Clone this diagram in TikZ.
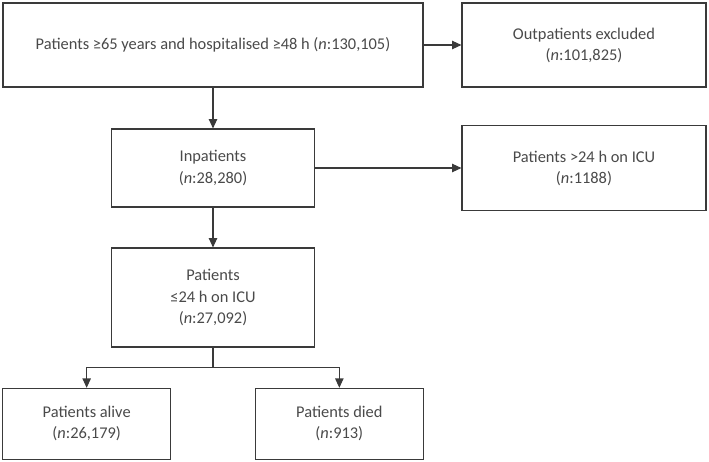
\documentclass[tikz,border=0pt]{standalone}
\usepackage{fontspec}
\setmainfont{Carlito}
\usetikzlibrary{arrows.meta}
\definecolor{linegray}{HTML}{3a3a3a}
\definecolor{textgray}{HTML}{4a4a4a}

\begin{document}
\begin{tikzpicture}[->,>={Triangle[length=2.8mm,width=2.5mm]},line width=0.9pt,color=linegray,
	                    node distance=3.69cm,font=\fontsize{14}{18}\selectfont]
	  \tikzstyle{box}=[rectangle,draw=linegray,fill=white,text=textgray,align=center,inner sep=0pt]

	  \useasboundingbox (0,0) rectangle (21.27,-13.86);

	  \node[box, minimum width=12.6cm, minimum height=2.52cm]	(start) at (6.39,-1.35) 	{Patients ≥65 years and hospitalised ≥48 h (\textit{n}:130,105)};
	  \node[box, minimum width=7.32cm, minimum height=2.52cm]	(outp) [right of=start, node distance=11.13cm] 	{Outpatients excluded\\(\textit{n}:101,825)};
	  \node[box, minimum width=6.09cm, minimum height=2.34cm]	(inp) [below of=start] 	{Inpatients\\(\textit{n}:28,280)};
	  \node[box, minimum width=7.32cm, minimum height=2.55cm]	(icu) [right of=inp, node distance=11.13cm] 	{Patients >24 h on ICU\\(\textit{n}:1188)};
	  \node[box, minimum width=6.09cm, minimum height=2.97cm]	(short) [below of=inp, node distance=3.885cm] 	{Patients\\≤24 h on ICU\\(\textit{n}:27,092)};
	  \node[box, minimum width=5.04cm, minimum height=2.13cm]	(alive) [below left of=short, node distance=5.36cm] 	{Patients alive\\(\textit{n}:26,179)};
	  \node[box, minimum width=5.04cm, minimum height=2.13cm]	(died) [below right of=short, node distance=5.36cm] 	{Patients died\\(\textit{n}:913)};

	  \path (start)	edge 	(outp)
	  			edge 	(inp)
	  		(inp) 	edge 	(icu)
	  			edge 	(short);
	  \draw[-] (short.south) -- ++(0,-0.6) coordinate (split);
	  \draw (split) -| (alive);
	  \draw (split) -| (died);
	\end{tikzpicture}
\end{document}
